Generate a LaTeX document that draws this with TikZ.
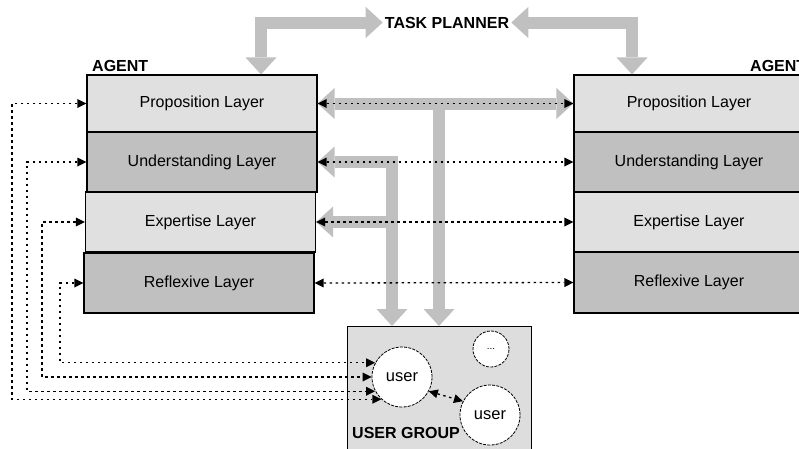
\documentclass[tikz,border=0pt]{standalone}
\usepackage{fontspec}
\setmainfont{Liberation Sans}
\usetikzlibrary{arrows.meta}
\definecolor{layerlight}{RGB}{224,224,224}
\definecolor{layerdark}{RGB}{192,192,192}
\definecolor{flowgrey}{RGB}{192,192,192}
\definecolor{groupfill}{RGB}{221,221,221}
\tikzset{
  bigtip/.tip={Triangle[length=17pt,width=31pt,line width=0pt]},
  smalltip/.tip={Triangle[length=9pt,width=9pt,line width=0pt]},
}
\begin{document}
\begin{tikzpicture}[x=1pt,y=-1pt,
  layer/.style={draw=black,line width=1.1pt,minimum width=230pt,inner sep=0pt,
    font=\fontsize{16}{18}\selectfont},
  light/.style={layer,fill=layerlight},
  dark/.style={layer,fill=layerdark},
  heading/.style={font=\fontsize{16}{18}\selectfont\bfseries,inner sep=1pt},
  flowline/.style={draw=flowgrey,line width=12pt,line join=miter},
  flowboth/.style={flowline,bigtip-bigtip},
  flowend/.style={flowline,-bigtip},
  flowstart/.style={flowline,bigtip-},
  msg/.style={draw=black,line width=1.3pt,dash pattern=on 2.5pt off 3.5pt,smalltip-smalltip},
  person/.style={circle,draw=black,fill=white,line width=0.8pt,dash pattern=on 3pt off 1.2pt,
    minimum size=60pt,inner sep=0pt,font=\fontsize{16.5}{18}\selectfont},
]
\useasboundingbox (0,0) rectangle (799,448);

% left agent stack
\node[light,minimum height=57pt] (lp) at (202,103.5) {Proposition Layer};
\node[dark,minimum height=60pt]  (lu) at (202,162) {Understanding Layer};
\node[light,minimum height=60pt] (le) at (200.5,222) {Expertise Layer};
\node[dark,minimum height=60pt]  (lr) at (199,283) {Reflexive Layer};
\node[heading,anchor=west] (la) at (91,66) {AGENT};

% right agent stack
\node[light,minimum height=57pt] (rp) at (689,103.5) {Proposition Layer};
\node[dark,minimum height=60pt]  (ru) at (689,162) {Understanding Layer};
\node[light,minimum height=60pt] (re) at (689,222) {Expertise Layer};
\node[dark,minimum height=61pt]  (rr) at (689,282.5) {Reflexive Layer};
\node[heading,anchor=west] (ra) at (749,66) {AGENT};

% task planner
\node[heading,inner sep=2pt] (tp) at (447,22.5) {TASK PLANNER};

% user group
\node[draw=black,line width=1.1pt,fill=groupfill,minimum width=184pt,minimum height=132pt,
  anchor=north west,inner sep=0pt] (ug) at (347,326) {};
\node[heading,anchor=west] (ugl) at (351,433) {USER GROUP};
\node[person] (u1) at (402,377) {user};
\node[person] (u2) at (490,415) {user};
\node[person,minimum size=36pt,font=\fontsize{10}{12}\selectfont] (u3) at (491,349) {...};

% routing columns
\coordinate (tl) at (261,22.5);
\coordinate (tr) at (632,22.5);
\coordinate (ja) at (392,0);
\coordinate (jb) at (439,0);
\coordinate (d1) at (12,0);
\coordinate (d2) at (27,0);
\coordinate (d3) at (42,0);
\coordinate (d4) at (60,0);

% grey information flows
\draw[flowboth] (tl |- lp.north) -- (tl) -- (tp.west);
\draw[flowboth] (tr |- rp.north) -- (tr) -- (tp.east);
\draw[flowend] (jb |- lp.east) -- (jb |- ug.north);
\draw[flowboth] (lu.east) -- (ja |- lu.east) -- (ja |- ug.north);
\draw[flowstart] (le.east) -- (ja |- le.east);
\draw[flowboth] (lp.east) -- (rp.west);

% layer-to-layer messages
\draw[msg] (lp.east) -- (rp.west);
\draw[msg] (lu.east) -- (ru.west);
\draw[msg] (le.east) -- (re.west);
\draw[msg] (lr.east) -- (rr.west);

% layer-to-user messages
\draw[msg] (lp.west) -- (d1 |- lp.west) |- (u1.227);
\draw[msg] (lu.west) -- (d2 |- lu.west) |- (u1.208);
\draw[msg] (le.west) -- (d3 |- le.west) |- (u1.west);
\draw[msg] (lr.west) -- (d4 |- lr.west) |- (u1.152);

% user-to-user message
\draw[msg] (u1.-28) -- (u2.153);
\end{tikzpicture}
\end{document}
